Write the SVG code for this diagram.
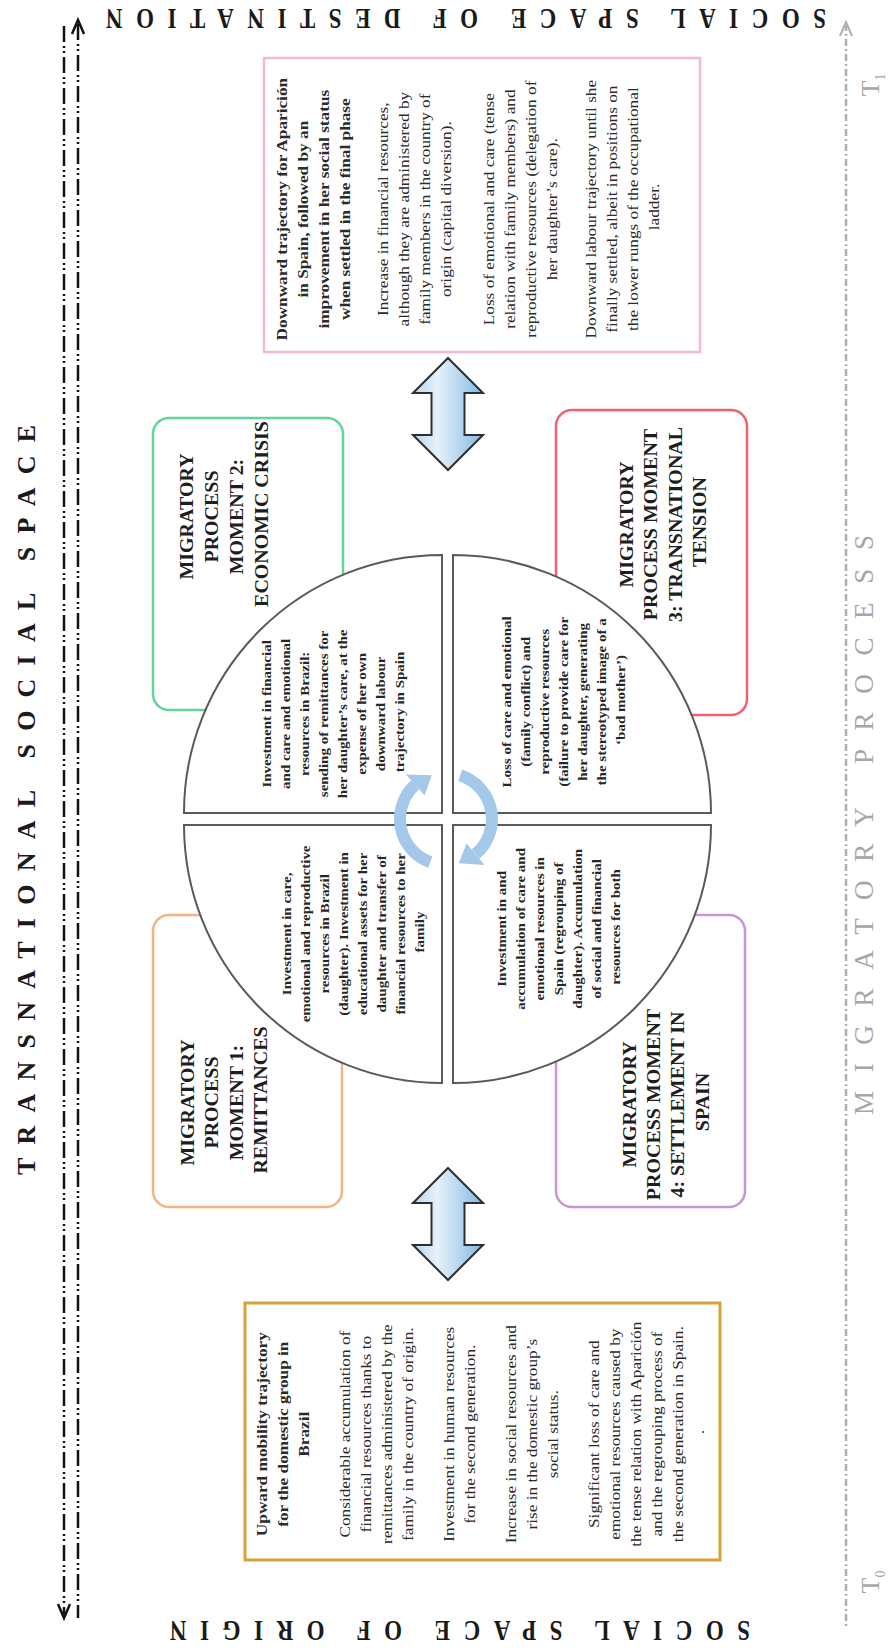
<svg xmlns="http://www.w3.org/2000/svg" width="892" height="1650" viewBox="0 0 892 1650">
<style>
.t{font-family:"Liberation Serif","Times New Roman",serif;fill:#2a2a2a}
.body{font-size:15px}
.bd{font-weight:bold}
.mom{font-size:18px;font-weight:bold;fill:#1e1e1e}
.q{font-size:12.5px;font-weight:bold;fill:#262626}
.ttl{font-family:"Liberation Serif","Times New Roman",serif;font-weight:bold;fill:#1a1a1a}
.gray{font-family:"Liberation Serif","Times New Roman",serif;fill:#a6a6a6}
.mbox{fill:#fff;stroke-width:2.5}
.quad{fill:#fff;stroke:#5a5a5a;stroke-width:2}
.dl{stroke:#111;stroke-width:2.5;fill:none;stroke-dasharray:16 4 2 3 2 4}
.gl{stroke:#b0b0b0;stroke-width:2.5;fill:none;stroke-dasharray:7 3 2 3}
.barrow{fill:url(#ag);stroke:#2e2e2e;stroke-width:2;stroke-linejoin:miter}
.cyc{fill:none;stroke:#a3c8ea;stroke-width:12}
</style>
<defs>
<linearGradient id="ag" x1="0" y1="0" x2="1" y2="0">
<stop offset="0" stop-color="#b7d5ee"/>
<stop offset="0.35" stop-color="#e6f1fa"/>
<stop offset="1" stop-color="#84b8e3"/>
</linearGradient>
</defs>

<g id="title-destination">
<text class="ttl" font-size="23" text-anchor="middle" textLength="720" lengthAdjust="spacing" transform="translate(466 9) rotate(180) scale(1 1.3)">SOCIAL SPACE OF DESTINATION</text>
</g>
<g id="title-origin">
<text class="ttl" font-size="23" text-anchor="middle" textLength="580" lengthAdjust="spacing" transform="translate(460 1621) rotate(180) scale(1 1.3)">SOCIAL SPACE OF ORIGIN</text>
</g>
<g id="title-transnational">
<text class="ttl" font-size="26" text-anchor="middle" textLength="750" lengthAdjust="spacing" transform="translate(35 800) rotate(-90)">TRANSNATIONAL SOCIAL SPACE</text>
</g>
<g id="title-migratory">
<text class="gray" font-size="27" text-anchor="middle" textLength="580" lengthAdjust="spacing" transform="translate(873 825) rotate(-90)">MIGRATORY PROCESS</text>
</g>
<g id="t1">
<text class="gray" font-size="26" text-anchor="middle" transform="translate(879 85) rotate(-90)">T<tspan font-size="14" dy="6">1</tspan></text>
</g>
<g id="t0">
<text class="gray" font-size="26" text-anchor="middle" transform="translate(879 1582) rotate(-90)">T<tspan font-size="14" dy="6">0</tspan></text>
</g>

<g id="connectors">
<line class="dl" x1="78" y1="24" x2="78" y2="1618"/>
<polyline points="72,34 78,20 84,34" fill="none" stroke="#111" stroke-width="2.5"/>
<line class="dl" x1="64" y1="26" x2="64" y2="1614"/>
<polyline points="58,1604 64,1618 70,1604" fill="none" stroke="#111" stroke-width="2.5"/>
<line class="gl" x1="846" y1="24" x2="846" y2="1627"/>
<polyline points="840,36 846,22 852,36" fill="none" stroke="#b0b0b0" stroke-width="2"/>
<polygon class="barrow" points="448,358 483,393 464.5,393 464.5,435 483,435 448,470 413,435 431.5,435 431.5,393 413,393"/>
<polygon class="barrow" points="448,1168 483,1203 464.5,1203 464.5,1245 483,1245 448,1280 413,1245 431.5,1245 431.5,1203 413,1203"/>
</g>

<g id="box-destination">
<rect x="264" y="58" width="436" height="294" fill="#fff" stroke="#f5b8d4" stroke-width="2.5"/>
<text class="t body" text-anchor="middle" transform="translate(0 207) rotate(-90) scale(1.15 1)">
<tspan class="bd" x="0" y="287">Downward trajectory for Aparición</tspan>
<tspan class="bd" x="0" y="308">in Spain, followed by an</tspan>
<tspan class="bd" x="0" y="329">improvement in her social status</tspan>
<tspan class="bd" x="0" y="350">when settled in the final phase</tspan>
<tspan x="0" y="388">Increase in financial resources,</tspan>
<tspan x="0" y="409">although they are administered by</tspan>
<tspan x="0" y="430">family members in the country of</tspan>
<tspan x="0" y="451">origin (capital diversion).</tspan>
<tspan x="0" y="494">Loss of emotional and care (tense</tspan>
<tspan x="0" y="515">relation with family members) and</tspan>
<tspan x="0" y="536">reproductive resources (delegation of</tspan>
<tspan x="0" y="557">her daughter’s care).</tspan>
<tspan x="0" y="596">Downward labour trajectory until she</tspan>
<tspan x="0" y="617">finally settled, albeit in positions on</tspan>
<tspan x="0" y="638">the lower rungs of the occupational</tspan>
<tspan x="0" y="659">ladder.</tspan>
</text>
</g>

<g id="box-origin">
<rect x="245" y="1303" width="475" height="257" fill="#fff" stroke="#d8a23a" stroke-width="3"/>
<text class="t body" text-anchor="middle" transform="translate(0 1432) rotate(-90) scale(1.15 1)">
<tspan class="bd" x="0" y="267">Upward mobility trajectory</tspan>
<tspan class="bd" x="0" y="288">for the domestic group in</tspan>
<tspan class="bd" x="0" y="309">Brazil</tspan>
<tspan x="0" y="350">Considerable accumulation of</tspan>
<tspan x="0" y="371">financial resources thanks to</tspan>
<tspan x="0" y="392">remittances administered by the</tspan>
<tspan x="0" y="413">family in the country of origin.</tspan>
<tspan x="0" y="454">Investment in human resources</tspan>
<tspan x="0" y="475">for the second generation.</tspan>
<tspan x="0" y="516">Increase in social resources and</tspan>
<tspan x="0" y="537">rise in the domestic group’s</tspan>
<tspan x="0" y="558">social status.</tspan>
<tspan x="0" y="599">Significant loss of care and</tspan>
<tspan x="0" y="620">emotional resources caused by</tspan>
<tspan x="0" y="641">the tense relation with Aparición</tspan>
<tspan x="0" y="662">and the regrouping process of</tspan>
<tspan x="0" y="683">the second generation in Spain.</tspan>
<tspan x="0" y="704">.</tspan>
</text>
</g>

<g id="moment-2">
<rect class="mbox" x="153" y="418" width="190" height="292" rx="16" stroke="#63d39c"/>
</g>
<g id="moment-3">
<rect class="mbox" x="556" y="410" width="191" height="305" rx="16" stroke="#f0606e"/>
</g>
<g id="moment-1">
<rect class="mbox" x="153" y="915" width="189" height="292" rx="16" stroke="#f7b283"/>
</g>
<g id="moment-4">
<rect class="mbox" x="556" y="915" width="189" height="292" rx="16" stroke="#c795dc"/>
</g>

<g id="quadrant-ul">
<path class="quad" d="M442 813 L184 813 A258 258 0 0 1 442 555 Z"/>
<text class="t q" text-anchor="middle" transform="translate(0 712) rotate(-90) scale(1.2 1)">
<tspan x="0" y="271">Investment in financial</tspan>
<tspan x="0" y="290">and care and emotional</tspan>
<tspan x="0" y="309">resources in Brazil:</tspan>
<tspan x="0" y="328">sending of remittances for</tspan>
<tspan x="0" y="347">her daughter’s care, at the</tspan>
<tspan x="0" y="366">expense of her own</tspan>
<tspan x="0" y="385">downward labour</tspan>
<tspan x="0" y="404">trajectory in Spain</tspan>
</text>
</g>
<g id="quadrant-ur">
<path class="quad" d="M453 813 L453 555 A258 258 0 0 1 711 813 Z"/>
<text class="t q" text-anchor="middle" transform="translate(0 700) rotate(-90) scale(1.2 1)">
<tspan x="0" y="511">Loss of care and emotional</tspan>
<tspan x="0" y="530">(family conflict) and</tspan>
<tspan x="0" y="549">reproductive resources</tspan>
<tspan x="0" y="568">(failure to provide care for</tspan>
<tspan x="0" y="587">her daughter, generating</tspan>
<tspan x="0" y="606">the stereotyped image of a</tspan>
<tspan x="0" y="625">‘bad mother’)</tspan>
</text>
</g>
<g id="quadrant-lr">
<path class="quad" d="M453 825 L711 825 A258 258 0 0 1 453 1083 Z"/>
<text class="t q" text-anchor="middle" transform="translate(0 927) rotate(-90) scale(1.2 1)">
<tspan x="0" y="506">Investment in and</tspan>
<tspan x="0" y="525">accumulation of care and</tspan>
<tspan x="0" y="544">emotional resources in</tspan>
<tspan x="0" y="563">Spain (regrouping of</tspan>
<tspan x="0" y="582">daughter). Accumulation</tspan>
<tspan x="0" y="601">of social and financial</tspan>
<tspan x="0" y="620">resources for both</tspan>
</text>
</g>
<g id="quadrant-ll">
<path class="quad" d="M442 825 L442 1083 A258 258 0 0 1 184 825 Z"/>
<text class="t q" text-anchor="middle" transform="translate(0 932) rotate(-90) scale(1.2 1)">
<tspan x="0" y="291">Investment in care,</tspan>
<tspan x="0" y="310">emotional and reproductive</tspan>
<tspan x="0" y="329">resources in Brazil</tspan>
<tspan x="0" y="348">(daughter). Investment in</tspan>
<tspan x="0" y="367">educational assets for her</tspan>
<tspan x="0" y="386">daughter and transfer of</tspan>
<tspan x="0" y="405">financial resources to her</tspan>
<tspan x="0" y="424">family</tspan>
</text>
</g>

<g id="cycle">
<path class="cyc" d="M430.3 862.2 A46 46 0 0 1 415.2 784.8"/>
<polygon fill="#a3c8ea" points="424.6,795.2 405.9,774.4 431.8,775.3"/>
<path class="cyc" d="M460.2 775.3 A46 46 0 0 1 475.6 854.2"/>
<polygon fill="#a3c8ea" points="466.6,843.5 484.6,865 458.7,863.2"/>
</g>

<g id="moment-2-text">
<text class="t mom" text-anchor="middle" transform="translate(0 514) rotate(-90) scale(1.11 1)">
<tspan x="0" y="193">MIGRATORY</tspan>
<tspan x="0" y="218">PROCESS</tspan>
<tspan x="0" y="243">MOMENT 2:</tspan>
<tspan x="0" y="268">ECONOMIC CRISIS</tspan>
</text>
</g>
<g id="moment-3-text">
<text class="t mom" text-anchor="middle" transform="translate(0 522) rotate(-90) scale(1.11 1)">
<tspan x="0" y="633">MIGRATORY</tspan>
<tspan x="0" y="657">PROCESS MOMENT</tspan>
<tspan x="0" y="682">3: TRANSNATIONAL</tspan>
<tspan x="0" y="706">TENSION</tspan>
</text>
</g>
<g id="moment-1-text">
<text class="t mom" text-anchor="middle" transform="translate(0 1100) rotate(-90) scale(1.11 1)">
<tspan x="0" y="194">MIGRATORY</tspan>
<tspan x="0" y="218">PROCESS</tspan>
<tspan x="0" y="243">MOMENT 1:</tspan>
<tspan x="0" y="267">REMITTANCES</tspan>
</text>
</g>
<g id="moment-4-text">
<text class="t mom" text-anchor="middle" transform="translate(0 1102) rotate(-90) scale(1.11 1)">
<tspan x="0" y="636">MIGRATORY</tspan>
<tspan x="0" y="660">PROCESS MOMENT</tspan>
<tspan x="0" y="684">4: SETTLEMENT IN</tspan>
<tspan x="0" y="709">SPAIN</tspan>
</text>
</g>
</svg>
